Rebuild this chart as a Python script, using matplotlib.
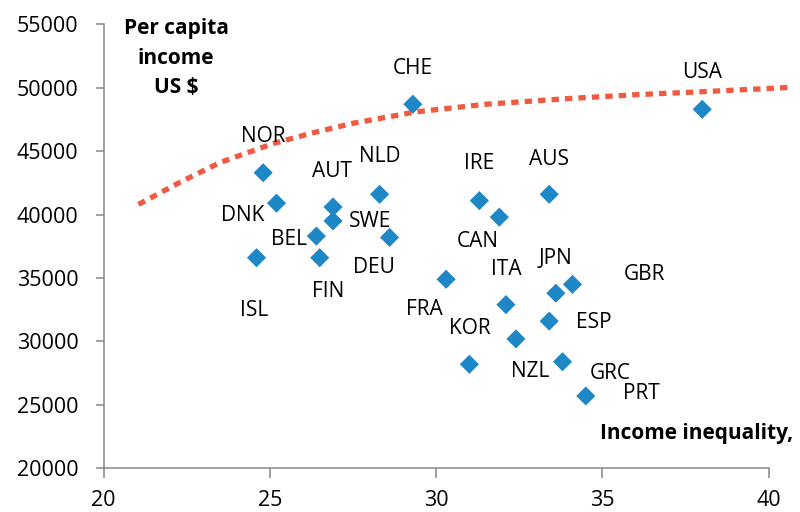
import matplotlib
matplotlib.use('Agg')
import matplotlib.pyplot as plt

plt.rcParams['font.family'] = ['Open Sans', 'DejaVu Sans']

# scatter data
countries = ['NOR', 'DNK', 'AUT', 'SWE', 'NLD', 'BEL', 'DEU', 'ISL', 'FIN', 'CHE', 'USA', 'IRE',
             'CAN', 'AUS', 'FRA', 'ITA', 'KOR', 'NZL', 'JPN', 'GBR', 'ESP', 'GRC', 'PRT']
inequality = [24.8, 25.2, 26.9, 26.9, 28.3, 26.4, 28.6, 24.6, 26.5, 29.3, 38.0, 31.3,
              31.9, 33.4, 30.3, 32.1, 31.0, 32.4, 33.6, 34.1, 33.4, 33.8, 34.5]
income = [43300, 40900, 40600, 39500, 41600, 38300, 38200, 36600, 36600, 48700, 48300, 41100,
          39800, 41600, 34900, 32900, 28200, 30200, 33800, 34500, 31600, 28400, 25700]

# trend line
trend_x = [21.05, 22.3, 23.5, 25.1, 26.3, 27.5, 29.4, 31.5, 34.0, 36.0, 38.1, 40.6]
trend_y = [40800, 42550, 44100, 45600, 46450, 47200, 48100, 48700, 49150, 49450, 49700, 50020]

# label offsets in pixels (dx, dy) from the marker
offsets = {
    'NOR': (0, 36), 'DNK': (-34, -12), 'AUT': (-1, 35), 'SWE': (37, -1), 'NLD': (0, 38),
    'BEL': (-27, -3), 'DEU': (-16, -30), 'ISL': (-2, -53), 'FIN': (8, -34), 'CHE': (0, 36),
    'USA': (0, 37), 'IRE': (0, 37), 'CAN': (-22, -24), 'AUS': (0, 35), 'FRA': (-22, -30),
    'ITA': (0, 35), 'KOR': (0, 36), 'NZL': (14, -33), 'JPN': (0, 35), 'GBR': (72, 10),
    'ESP': (45, -1), 'GRC': (48, -12), 'PRT': (56, 2),
}

fig = plt.figure(figsize=(8, 5.12), dpi=100)
ax = fig.add_axes([0.1294, 0.0854, 0.8315, 0.8671])

axis_grey = '#868686'

ax.plot(trend_x, trend_y, color='#F05A40', linewidth=3.8, linestyle=(0, (1.4, 1.15)),
        dash_capstyle='butt', clip_on=False, zorder=2)
ax.scatter(inequality, income, marker='D', s=95, color='#1E87C6', edgecolors='none', zorder=3)

for c, x, y in zip(countries, inequality, income):
    dx, dy = offsets[c]
    ax.annotate(c, (x, y), xytext=(dx, dy), textcoords='offset pixels',
                ha='center', va='center', fontsize=15, color='black')

ax.set_xlim(20, 40)
ax.set_ylim(20000, 55000)
ax.set_xticks([20, 25, 30, 35, 40])
ax.set_yticks(range(20000, 55001, 5000))

for s in ['top', 'right']:
    ax.spines[s].set_visible(False)
for s in ['left', 'bottom']:
    ax.spines[s].set_color(axis_grey)
    ax.spines[s].set_linewidth(1.1)

ax.tick_params(axis='y', direction='out', length=6, width=1.1, color=axis_grey,
               labelsize=15.5, pad=12)
ax.tick_params(axis='x', direction='out', length=7, width=1.1, color=axis_grey,
               labelsize=15.5, pad=9)

fig.text(176 / 800, 1 - 58 / 512, 'Per capita\nincome\nUS $', ha='center', va='center',
         fontsize=15, fontweight='bold', linespacing=1.55)
fig.text(793 / 800, 1 - 433 / 512, 'Income inequality,', ha='right', va='center',
         fontsize=15, fontweight='bold')

fig.savefig('out.png', dpi=100)
